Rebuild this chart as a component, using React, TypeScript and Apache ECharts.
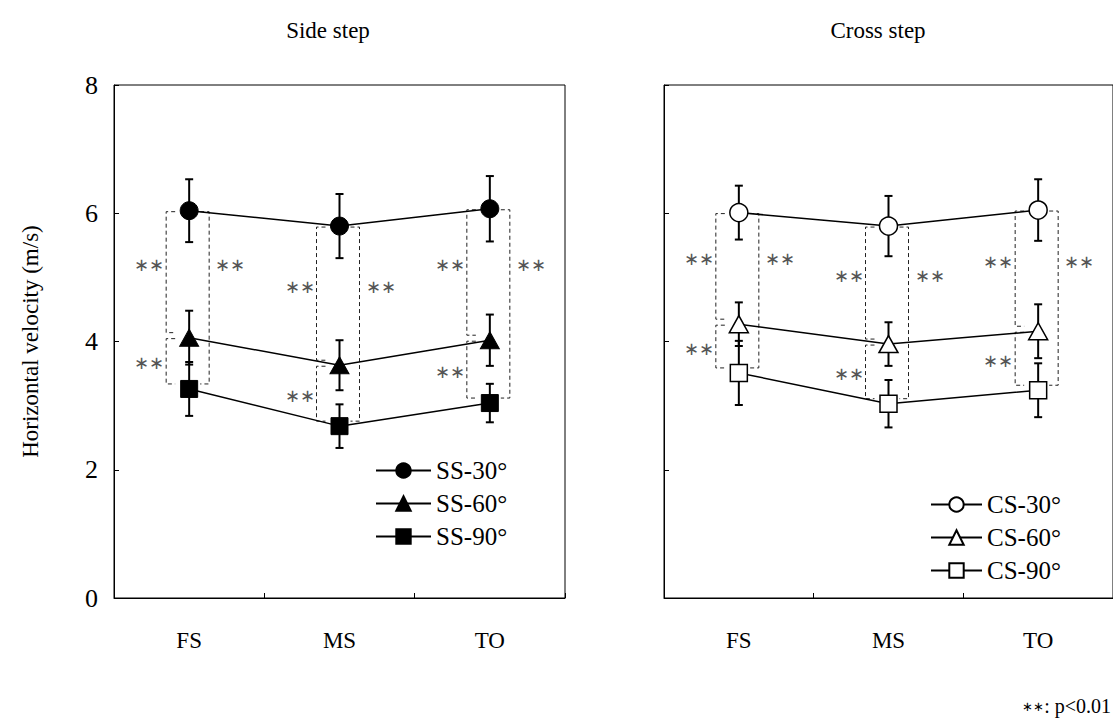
import React, { useEffect, useRef } from 'react';
import * as echarts from 'echarts';

const categories = ['FS', 'MS', 'TO'];
const panelTitles = ['Side step', 'Cross step'];
const yAxisName = 'Horizontal velocity (m/s)';
const ssNames = ['SS-30°', 'SS-60°', 'SS-90°'];
const csNames = ['CS-30°', 'CS-60°', 'CS-90°'];

const ss30Mean = [6.04, 5.8, 6.07];
const ss30Sd = [0.49, 0.5, 0.51];
const ss60Mean = [4.06, 3.63, 4.02];
const ss60Sd = [0.42, 0.39, 0.4];
const ss90Mean = [3.26, 2.68, 3.04];
const ss90Sd = [0.42, 0.34, 0.3];

const cs30Mean = [6.01, 5.8, 6.05];
const cs30Sd = [0.42, 0.47, 0.48];
const cs60Mean = [4.27, 3.96, 4.16];
const cs60Sd = [0.34, 0.34, 0.42];
const cs90Mean = [3.51, 3.03, 3.24];
const cs90Sd = [0.5, 0.37, 0.42];

// [upper group, lower group, side (-1 left, 1 right)] significant at every phase
const sigPairs = [
  [0, 1, -1],
  [1, 2, -1],
  [0, 2, 1],
];
const sigLabel = '∗∗';
const footnote = ': p<0.01';

const FONT = '"Liberation Serif", "Times New Roman", serif';
const symbols = ['circle', 'triangle', 'rect'];
const symbolSizes: any[] = [18, [19, 17], 17];

export default function App() {
  const ref = useRef<HTMLDivElement>(null);
  useEffect(() => {
    if (!ref.current) return;
    const chart = echarts.init(ref.current, undefined, { renderer: 'svg' });

    const panels = [
      { names: ssNames, means: [ss30Mean, ss60Mean, ss90Mean], sds: [ss30Sd, ss60Sd, ss90Sd], filled: true },
      { names: csNames, means: [cs30Mean, cs60Mean, cs90Mean], sds: [cs30Sd, cs60Sd, cs90Sd], filled: false },
    ];

    const series: any[] = [];
    panels.forEach((p, pi) => {
      const errData: any[] = [];
      p.means.forEach((m, g) => {
        m.forEach((v, c) => errData.push([c, v - p.sds[g][c], v + p.sds[g][c]]));
      });
      series.push({
        type: 'custom',
        xAxisIndex: pi,
        yAxisIndex: pi,
        z: 1,
        silent: true,
        data: errData,
        encode: { x: 0, y: [1, 2] },
        renderItem: (params: any, api: any) => {
          const c = api.value(0);
          const lo = api.coord([c, api.value(1)]);
          const hi = api.coord([c, api.value(2)]);
          const hw = 4;
          const st = { stroke: '#000', lineWidth: 2 };
          return {
            type: 'group',
            children: [
              { type: 'line', shape: { x1: lo[0], y1: lo[1], x2: hi[0], y2: hi[1] }, style: st },
              { type: 'line', shape: { x1: lo[0] - hw, y1: lo[1], x2: lo[0] + hw, y2: lo[1] }, style: st },
              { type: 'line', shape: { x1: hi[0] - hw, y1: hi[1], x2: hi[0] + hw, y2: hi[1] }, style: st },
            ],
          };
        },
      });
      const brData: any[] = [];
      categories.forEach((_, c) => {
        sigPairs.forEach(([a, b, side]) => {
          const top = p.means[a][c];
          const bot = p.means[b][c];
          const labelVal = a === 0 ? (p.means[0][c] + p.means[1][c]) / 2 : (top + bot) / 2;
          brData.push([c, top, bot, side, labelVal, a === 0 ? 1 : 0]);
        });
      });
      series.push({
        type: 'custom',
        xAxisIndex: pi,
        yAxisIndex: pi,
        z: 1,
        silent: true,
        data: brData,
        encode: { x: 0, y: [1, 2] },
        renderItem: (params: any, api: any) => {
          const c = api.value(0);
          const side = api.value(3);
          const pT = api.coord([c, api.value(1)]);
          const pB = api.coord([c, api.value(2)]);
          const pL = api.coord([c, api.value(4)]);
          const cx = pT[0];
          const bx = side < 0 ? cx - 23 : cx + 20;
          const ex = side < 0 ? bx + 9 : bx - 9;
          const yT = pT[1] + 1;
          const yB = pB[1] - 5;
          const ly = Math.round(pL[1] - (api.value(5) ? 9 : 0));
          return {
            type: 'group',
            children: [
              {
                type: 'polyline',
                shape: { points: [[ex, yT], [bx, yT], [bx, yB], [ex, yB]] },
                style: { stroke: '#222', lineWidth: 1, lineDash: [4, 3], fill: 'none' },
              },
              {
                type: 'text',
                x: Math.round(side < 0 ? bx - 2 : bx + 6),
                y: ly,
                style: {
                  text: sigLabel,
                  fill: '#555',
                  fontSize: 18,
                  fontFamily: FONT,
                  align: side < 0 ? 'right' : 'left',
                  verticalAlign: 'middle',
                },
              },
            ],
          };
        },
      });
      p.means.forEach((m, g) => {
        series.push({
          type: 'line',
          name: p.names[g],
          xAxisIndex: pi,
          yAxisIndex: pi,
          z: 3,
          data: m,
          symbol: symbols[g],
          symbolSize: symbolSizes[g],
          showAllSymbol: true,
          lineStyle: { color: '#000', width: 1.5 },
          itemStyle: p.filled
            ? { color: '#000', borderColor: '#000', borderWidth: 1 }
            : { color: '#fff', borderColor: '#000', borderWidth: 1.5 },
          emphasis: { disabled: true },
        });
      });
    });

    const axisX = (gi: number) => ({
      type: 'category',
      gridIndex: gi,
      data: categories,
      axisLine: { show: true, lineStyle: { color: '#000', width: 1 } },
      axisTick: { show: true, inside: true, length: 5, lineStyle: { color: '#000' } },
      axisLabel: { fontSize: 23, color: '#000', fontFamily: FONT, margin: 31 },
      splitLine: { show: false },
    });
    const axisY = (gi: number) => ({
      type: 'value',
      gridIndex: gi,
      min: 0,
      max: 8,
      interval: 2,
      name: gi === 0 ? yAxisName : '',
      nameLocation: 'middle',
      nameGap: 72,
      nameTextStyle: { fontSize: 23, color: '#000', fontFamily: FONT },
      axisLine: { show: true, lineStyle: { color: '#000', width: 1 } },
      axisTick: { show: true, inside: true, length: 5, lineStyle: { color: '#000' } },
      axisLabel: { show: gi === 0, fontSize: 26, color: '#000', fontFamily: FONT, margin: 16 },
      splitLine: { show: false },
    });

    const legendBase = {
      orient: 'vertical',
      itemHeight: 18,
      itemGap: 8,
      selectedMode: false,
      textStyle: { fontSize: 25, color: '#000', fontFamily: FONT },
    };

    chart.setOption({
      animation: false,
      backgroundColor: '#fff',
      title: [
        { text: panelTitles[0], left: 323, top: 14, textAlign: 'center', textStyle: { fontSize: 23, fontWeight: 'normal', color: '#000', fontFamily: FONT } },
        { text: panelTitles[1], left: 873, top: 14, textAlign: 'center', textStyle: { fontSize: 23, fontWeight: 'normal', color: '#000', fontFamily: FONT } },
      ],
      grid: [
        { left: 114, top: 85, width: 451, height: 513, show: true, borderColor: '#000', borderWidth: 1, backgroundColor: 'transparent' },
        { left: 664, top: 85, width: 451, height: 513, show: true, borderColor: '#000', borderWidth: 1, backgroundColor: 'transparent' },
      ],
      xAxis: [axisX(0), axisX(1)],
      yAxis: [axisY(0), axisY(1)],
      legend: [
        { ...legendBase, data: ssNames, left: 370, top: 453, itemWidth: 55 },
        { ...legendBase, data: csNames, left: 925, top: 487, itemWidth: 51 },
      ],
      graphic: [
        {
          type: 'text',
          right: 2,
          top: 696,
          style: {
            text: '{s|' + sigLabel + '}' + footnote,
            fontSize: 20,
            fontFamily: FONT,
            fill: '#000',
            rich: { s: { fontSize: 13, fontFamily: FONT, fill: '#000' } },
          },
        },
      ],
      series,
    });

    return () => chart.dispose();
  }, []);

  return <div ref={ref} style={{ position: 'absolute', left: 0, top: 0, width: 1113, height: 724 }} />;
}
